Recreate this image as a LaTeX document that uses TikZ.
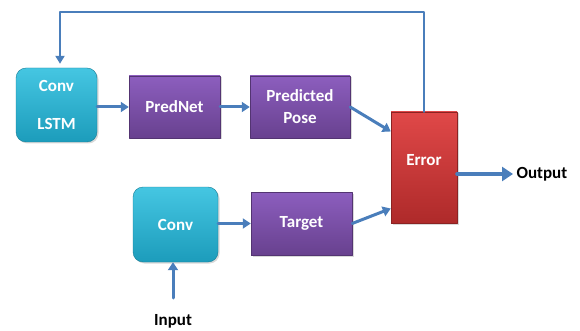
\documentclass[tikz,border=0pt]{standalone}
\usepackage{fontspec}
\setmainfont{Carlito}
\usetikzlibrary{arrows.meta,calc,shadows}
\definecolor{flowblue}{HTML}{4A7EBB}
\definecolor{tealtop}{HTML}{45C6E2}
\definecolor{tealbot}{HTML}{1C9CBB}
\definecolor{purptop}{HTML}{8C5EBE}
\definecolor{purpbot}{HTML}{68418F}
\definecolor{redtop}{HTML}{E04848}
\definecolor{redbot}{HTML}{AE2A2A}

\begin{document}
\begin{tikzpicture}[x=1pt, y=-1pt, >=Latex, line cap=round, line join=round,
    txt/.style={font=\fontsize{17}{22}\selectfont\bfseries},
    tealbox/.style={txt, text=white, draw=tealbot!80!black, top color=tealtop, bottom color=tealbot,
        rounded corners=10pt, align=center, drop shadow={shadow xshift=1.5pt, shadow yshift=-1.5pt, opacity=0.3}},
    purpbox/.style={txt, text=white, draw=purpbot!80!black, top color=purptop, bottom color=purpbot,
        align=center, drop shadow={shadow xshift=1.5pt, shadow yshift=-1.5pt, opacity=0.3}},
    redbox/.style={txt, text=white, draw=redbot!80!black, top color=redtop, bottom color=redbot,
        align=center, drop shadow={shadow xshift=1.5pt, shadow yshift=-1.5pt, opacity=0.3}},
    flow/.style={draw=flowblue, line width=3pt, -{Triangle[length=8pt, width=10pt]}},
    fb/.style={draw=flowblue, line width=2pt, -{Triangle[length=8pt, width=9pt]}}]
    \useasboundingbox (0,0) rectangle (580,331);

    % top row
    \node[tealbox, minimum width=81pt, minimum height=74pt] (convlstm) at (56.5,105) {Conv\\[16pt]LSTM};
    \node[purpbox, minimum width=91pt, minimum height=62pt] (prednet) at (174.5,107) {PredNet};
    \node[purpbox, minimum width=100pt, minimum height=62pt] (pose) at (300,107) {Predicted\\Pose};

    % bottom row
    \node[tealbox, minimum width=85pt, minimum height=75pt] (conv) at (175.5,224.5) {Conv};
    \node[purpbox, minimum width=101pt, minimum height=63pt] (target) at (301.5,223.5) {Target};

    \node[redbox, minimum width=66pt, minimum height=111pt, text depth=16pt] (error) at (424,167.5) {Error};

    \node[txt, anchor=west] (output) at (513,174) {Output};
    \node[txt] (input) at (173,321) {Input};
    \coordinate (inputtop) at (173,298);

    \draw[flow] (convlstm.east |- prednet) -- (prednet);
    \draw[flow] (prednet) -- (pose);
    \draw[flow] (conv.east |- target) -- (target);
    \draw[flow] (pose.east) -- ([yshift=36pt]error.west);
    \draw[flow] (target.east) -- ([yshift=-41pt]error.west);
    \draw[flow, line width=4pt, -{Triangle[length=11pt, width=14pt]}] (error.east |- output) -- (output);
    \draw[flow] (inputtop) -- (conv.south -| inputtop);

    % feedback loop
    \draw[fb, shorten >=4pt] (error.north) -- ++(0,-100) -| ([xshift=3.5pt]convlstm.north);
\end{tikzpicture}
\end{document}
